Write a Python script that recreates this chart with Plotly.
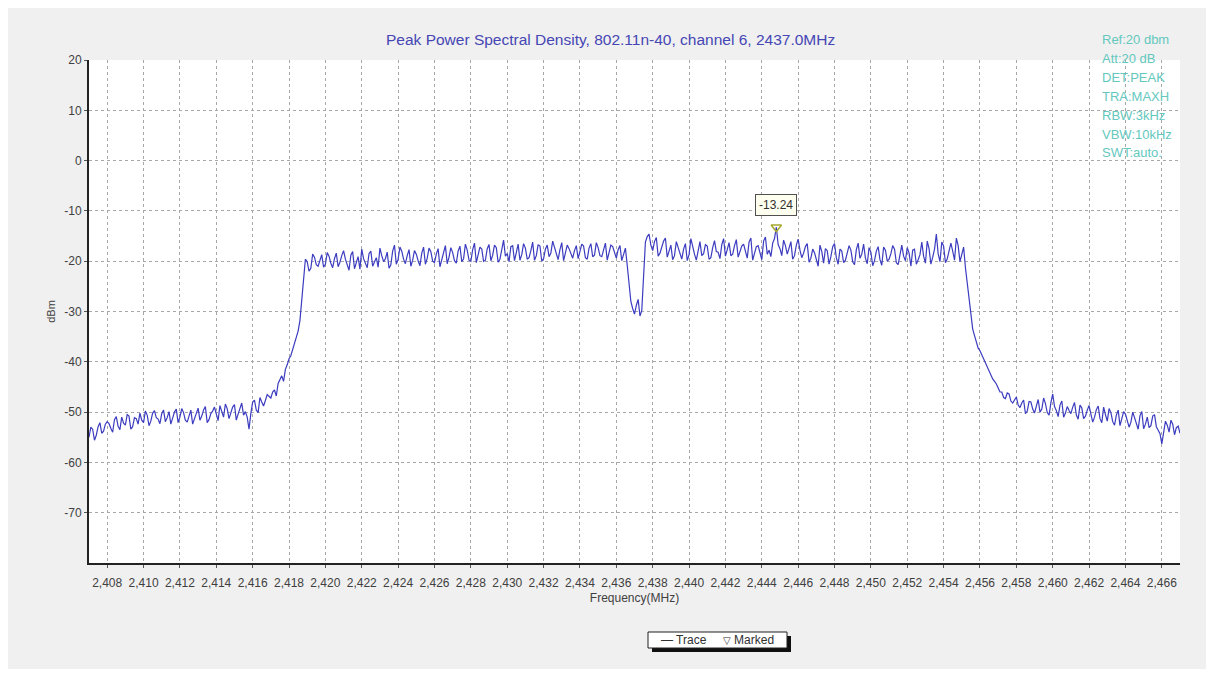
import numpy as np
import plotly.graph_objects as go

# ---------------- data ----------------
# Each segment: frequency span (MHz), levels on the main sample grid and
# levels on the in-between samples (dBm), all read off the reference trace.
low_left_span = (2407.0, 2416.8)
low_left = [-55.0, -53.4, -54.6, -52.1, -53.8, -51.9, -53.2, -51.5, -52.8, -51.0,
            -52.6, -50.8, -52.9, -51.3, -50.2, -52.1, -50.6, -51.8, -49.7, -51.4,
            -50.3, -51.9, -49.9, -51.2, -49.4, -51.0, -50.1, -52.0, -49.6, -51.3,
            -49.2, -50.8, -48.9, -51.5, -49.8, -50.6, -48.7, -51.0, -49.3, -50.2,
            -48.5, -50.4, -48.2, -49.9, -53.4, -48.0, -49.6, -47.1, -48.8, -46.5]
low_left_mid = [-53.0, -55.6, -52.9, -54.2, -52.4, -52.3, -54.0, -50.9, -53.5, -52.2,
                -50.5, -53.4, -51.1, -52.4, -51.6, -49.8, -52.7, -50.2, -51.1, -52.3,
                -49.6, -51.1, -52.4, -50.0, -52.1, -49.3, -51.6, -50.9, -52.4, -50.0,
                -51.6, -49.6, -52.1, -50.3, -49.0, -51.7, -49.8, -48.4, -51.3, -49.0,
                -51.6, -49.1, -50.6, -51.0, -50.3, -47.6, -50.1, -48.0, -47.7]

rise_span = (2417.0, 2418.6)
rise = [-47.2, -45.6, -44.3, -42.8, -41.5, -39.4, -37.6, -35.2, -31.8]
rise_mid = [-46.0, -46.8, -43.5, -43.9, -40.6, -38.8, -36.0, -33.9]

band_left_span = (2418.8, 2436.6)
band_left = [-22.5, -20.1, -21.4, -19.2, -21.0, -18.7, -20.6, -19.0, -21.3, -18.4,
             -20.2, -17.9, -20.8, -18.8, -21.5, -19.1, -17.6, -20.4, -18.5, -21.0,
             -19.3, -17.4, -20.1, -18.2, -20.7, -16.8, -19.6, -18.0, -20.5, -17.7,
             -19.8, -18.6, -20.9, -17.2, -19.4, -18.1, -20.3, -17.5, -19.7, -16.9,
             -19.2, -18.3, -20.4, -17.0, -19.5, -17.8, -20.0, -16.4, -18.9, -17.6,
             -19.8, -16.7, -18.8, -17.3, -19.6, -15.8, -18.5, -17.1, -19.9, -16.6,
             -18.7, -17.4, -19.3, -16.2, -18.9, -17.0, -19.5, -16.8, -18.4, -17.2,
             -19.7, -16.3, -18.6, -17.5, -19.4, -16.9, -18.2, -17.0, -19.6, -16.5,
             -18.8, -17.3, -19.1, -16.4, -18.5, -17.1, -19.4, -16.9, -18.7, -20.8]
band_left_mid = [-19.6, -22.0, -18.6, -20.7, -19.9, -21.2, -18.3, -20.4, -19.5, -21.1,
                 -18.9, -19.6, -21.8, -18.1, -20.0, -21.6, -19.5, -21.3, -18.0, -20.2,
                 -21.2, -18.9, -19.5, -21.4, -18.0, -20.6, -17.2, -19.6, -18.9, -21.0,
                 -17.9, -19.9, -18.4, -20.6, -17.4, -20.0, -18.6, -21.1, -17.8, -20.5,
                 -17.3, -19.9, -18.0, -20.1, -16.6, -19.8, -17.7, -20.3, -17.2, -20.0,
                 -17.5, -19.9, -16.8, -20.2, -17.6, -19.0, -20.1, -16.9, -18.3, -19.8,
                 -16.5, -19.6, -17.9, -19.8, -16.7, -20.0, -17.6, -19.1, -16.0, -18.9,
                 -17.7, -19.9, -16.8, -18.3, -17.9, -19.5, -16.6, -19.3, -17.4, -19.1,
                 -16.3, -18.9, -17.6, -19.8, -16.8, -18.4, -17.7, -19.9, -17.4]

notch_span = (2436.8, 2437.4)
notch = [-28.0, -30.5, -27.6, -29.8]
notch_mid = [-29.4, -28.8, -30.9]

band_right_span = (2437.6, 2455.2)
band_right = [-16.2, -14.6, -17.9, -15.3, -18.4, -16.0, -19.2, -16.8, -18.9, -17.2,
              -19.6, -16.5, -18.7, -17.4, -19.8, -16.1, -18.5, -17.0, -19.3, -15.9,
              -18.2, -16.7, -19.0, -16.3, -18.6, -15.7, -18.0, -16.6, -19.4, -15.4,
              -18.3, -16.9, -19.7, -15.2, -17.8, -16.4, -13.24, -17.5, -15.8, -18.6,
              -16.1, -18.9, -15.6, -19.3, -17.1, -20.2, -17.6, -19.5, -16.8, -20.4,
              -17.9, -19.1, -16.5, -20.6, -18.0, -19.8, -16.9, -20.1, -17.7, -19.4,
              -16.6, -20.5, -18.2, -19.9, -17.1, -20.8, -17.8, -19.6, -16.9, -20.3,
              -18.4, -19.0, -17.3, -21.0, -17.6, -19.7, -16.2, -20.4, -17.5, -19.2,
              -14.6, -20.1, -17.0, -19.5, -16.4, -19.8, -16.9, -18.6, -21.3]
band_right_mid = [-15.1, -16.8, -16.1, -19.0, -17.1, -15.4, -18.0, -19.7, -16.1, -18.3,
                  -17.6, -19.9, -15.5, -18.6, -17.8, -18.9, -16.7, -19.6, -17.3, -18.1,
                  -19.5, -15.5, -17.7, -18.9, -16.9, -19.2, -17.0, -18.3, -16.2, -19.8,
                  -17.1, -18.2, -16.0, -18.6, -19.1, -15.5, -16.7, -18.9, -16.9, -17.4,
                  -19.6, -16.8, -17.8, -18.4, -16.5, -19.4, -18.3, -21.0, -18.1, -17.5,
                  -20.6, -17.1, -19.3, -17.6, -20.3, -18.3, -17.8, -20.7, -16.4, -18.6,
                  -19.4, -17.3, -20.9, -18.0, -19.7, -17.2, -20.0, -18.5, -17.6, -20.7,
                  -16.8, -19.9, -18.4, -17.8, -20.6, -18.7, -19.0, -16.0, -20.6, -17.6,
                  -18.5, -16.2, -20.3, -17.8, -18.0, -15.4, -20.1, -17.2]

fall_span = (2455.4, 2457.8)
fall = [-28.0, -33.5, -36.2, -37.8, -39.6, -41.0, -42.6, -43.9, -45.2, -46.0,
        -47.3, -46.4, -48.2]
fall_mid = [-31.0, -34.8, -37.3, -38.6, -40.5, -41.9, -43.4, -44.4, -46.0, -47.1,
            -46.2, -47.8]

low_right_span = (2458.0, 2467.0)
low_right = [-47.0, -49.1, -47.6, -49.8, -48.0, -50.2, -47.5, -49.4, -48.3, -50.6,
             -46.4, -49.7, -48.6, -51.0, -48.9, -50.3, -48.1, -51.4, -49.2, -50.8,
             -48.7, -52.0, -49.5, -51.3, -49.0, -51.8, -50.1, -52.6, -49.6, -51.5,
             -50.4, -53.0, -50.0, -52.2, -50.7, -53.3, -51.0, -52.7, -50.5, -53.6,
             -56.3, -51.8, -54.0, -52.4, -53.1, -54.2]
low_right_mid = [-48.6, -48.2, -50.3, -47.9, -49.4, -48.8, -50.0, -47.2, -50.1, -48.1,
                 -48.9, -50.9, -47.8, -50.2, -49.7, -49.0, -50.6, -48.6, -51.3, -49.6,
                 -50.4, -51.0, -48.8, -52.1, -50.5, -49.3, -51.9, -50.6, -52.7, -49.9,
                 -51.6, -52.0, -51.1, -53.4, -49.9, -52.4, -53.1, -50.8, -52.9, -54.3,
                 -53.5, -52.6, -51.6, -54.5, -52.8]

marker_freq = [2444.8]
marker_level = [-13.24]

x_ticks = list(range(2408, 2467, 2))
y_ticks = [20, 10, 0, -10, -20, -30, -40, -50, -60, -70]

info_lines = ["Ref:20 dbm", "Att:20 dB", "DET:PEAK", "TRA:MAXH",
              "RBW:3kHz", "VBW:10kHz", "SWT:auto."]

# ---------------- build trace ----------------
segments = [(low_left_span, low_left, low_left_mid), (rise_span, rise, rise_mid),
            (band_left_span, band_left, band_left_mid), (notch_span, notch, notch_mid),
            (band_right_span, band_right, band_right_mid), (fall_span, fall, fall_mid),
            (low_right_span, low_right, low_right_mid)]
freq, level = [], []
for (f0, f1), main, mid in segments:
    seq = []
    for i, v in enumerate(main):
        seq.append(v)
        if i < len(mid):
            seq.append(mid[i])
    freq.extend(np.linspace(f0, f1, len(seq)).tolist())
    level.extend(seq)

FONT = "Liberation Sans, Arial, sans-serif"

# page body has an 8px margin: figure is placed at (8, 8)
W, H = 1198, 661
PL, PR, PT, PB = 89, 1180, 60, 563   # plot area in window pixels


def px_x(p):
    return (p - PL) / (PR - PL)


def px_y(p):
    return (PB - p) / (PB - PT)


fig = go.Figure()
fig.add_trace(go.Scatter(x=freq, y=level, mode="lines", name="Trace",
                         line=dict(color="#3c3cc0", width=1.2), showlegend=False))
fig.add_trace(go.Scatter(x=marker_freq, y=marker_level, mode="markers", name="Marked",
                         marker=dict(symbol="triangle-down-open", size=9,
                                     color="#a8a830", line=dict(width=1.5)),
                         showlegend=False))

# marker label
fig.add_annotation(x=marker_freq[0], y=marker_level[0], xref="x", yref="y",
                   text="%.2f" % marker_level[0], showarrow=False, yshift=22,
                   bgcolor="#fffff0", bordercolor="#505050", borderwidth=1, borderpad=3,
                   font=dict(family=FONT, size=12, color="#303030"))

# title
fig.add_annotation(x=px_x(610), y=px_y(40), xref="paper", yref="paper",
                   xanchor="center", yanchor="middle",
                   text="Peak Power Spectral Density, 802.11n-40, channel 6, 2437.0MHz",
                   showarrow=False, font=dict(family=FONT, size=15.5, color="#4646b4"))

# info text at top right
for i, t in enumerate(info_lines):
    ypix = 40 + i * 18.8
    fig.add_annotation(x=px_x(1100), y=px_y(ypix), xref="paper", yref="paper",
                       text=t, showarrow=False, xanchor="left", yanchor="middle",
                       font=dict(family=FONT, size=13, color="#64c8be"))

# legend box (shadow + box + text)
fig.add_shape(type="rect", xref="paper", yref="paper",
              x0=px_x(652), x1=px_x(791), y0=px_y(652), y1=px_y(636),
              fillcolor="#101010", line=dict(width=0), layer="above")
fig.add_shape(type="rect", xref="paper", yref="paper",
              x0=px_x(648), x1=px_x(787), y0=px_y(648), y1=px_y(632),
              fillcolor="white", line=dict(color="#202020", width=1), layer="above")
fig.add_annotation(x=px_x(717), y=px_y(640), xref="paper", yref="paper",
                   xanchor="center", yanchor="middle",
                   text=("\u2014 Trace&nbsp;&nbsp;&nbsp;&nbsp;&nbsp;"
                         "<span style='font-family:DejaVu Sans;font-size:10px'>\u25bd</span> Marked"),
                   showarrow=False,
                   font=dict(family=FONT, size=12, color="#303030"))

fig.update_layout(
    width=W, height=H,
    margin=dict(l=PL - 8, r=W - (PR - 8), t=PT - 8, b=H - (PB - 8)),
    paper_bgcolor="#f0f0f0",
    plot_bgcolor="white",
    font=dict(family=FONT, size=12, color="#404040"),
    xaxis=dict(range=[2407, 2467], tickvals=x_ticks, tickformat=",d",
               showgrid=True, gridcolor="#a8a8a8", griddash="3px,3px", gridwidth=1,
               showline=True, linecolor="#222222", linewidth=2,
               ticks="outside", ticklen=3, tickcolor="#555555",
               ticklabelstandoff=5,
               tickfont=dict(family=FONT, size=12, color="#404040"),
               title=dict(text="Frequency(MHz)", standoff=4,
                          font=dict(family=FONT, size=12, color="#404040")),
               zeroline=False),
    yaxis=dict(range=[-80, 20], tickvals=y_ticks, ticktext=[str(v) for v in y_ticks],
               showgrid=True, gridcolor="#a8a8a8", griddash="3px,3px", gridwidth=1,
               showline=True, linecolor="#222222", linewidth=2,
               ticks="outside", ticklen=3, tickcolor="#555555",
               tickfont=dict(family=FONT, size=12, color="#404040"),
               title=dict(text="dBm", standoff=6,
                          font=dict(family=FONT, size=11, color="#404040")),
               zeroline=False),
    showlegend=False,
)

fig.write_html("out.html")
